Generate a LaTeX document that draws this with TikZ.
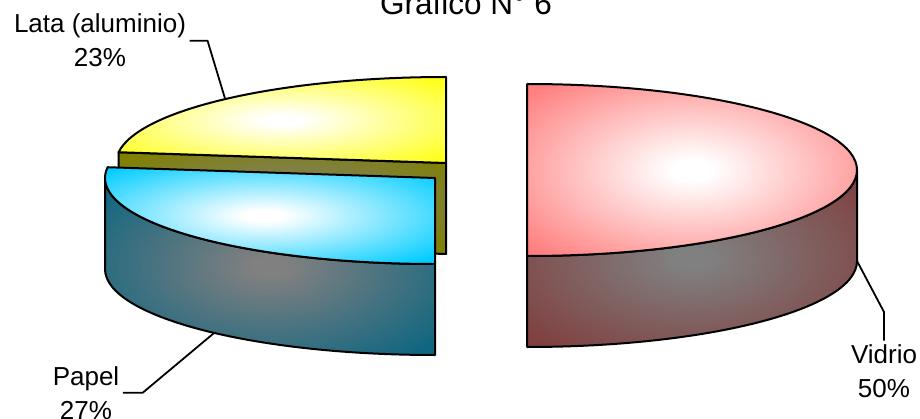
\documentclass[tikz,border=0pt]{standalone}
\usepackage{fontspec}
\setmainfont{Liberation Sans}
\usepackage{xcolor}

\definecolor{vidrioTop}{HTML}{FF8080}
\definecolor{vidrioSide}{HTML}{804040}
\definecolor{papelTop}{HTML}{00CCFF}
\definecolor{papelSide}{HTML}{0F6680}
\definecolor{lataTop}{HTML}{FFFF1A}
\definecolor{lataSide}{HTML}{808000}
\colorlet{facein}{white}
\colorlet{faceout}{white}
\pgfdeclareradialshading[facein,faceout]{boxfade}{\pgfpoint{0bp}{0bp}}{%
  color(0bp)=(facein); color(3bp)=(facein); color(33bp)=(faceout); color(100bp)=(faceout)}

\begin{document}
\begin{tikzpicture}[x=1pt,y=1pt]

    \tikzset{
      SliceStyle/.style = { draw, line width = 2pt, line join = round, shade, shading = boxfade },
      TopStyle/.style = { SliceStyle, /utils/exec = {\colorlet{facein}{white}\colorlet{faceout}{#1}} },
      SideStyle/.style = { SliceStyle, /utils/exec = {\colorlet{facein}{gray}\colorlet{faceout}{#1}} },
      PieArc/.style = { x radius = 330pt, y radius = 86pt },
      LabelStyle/.style = { font = \fontsize{26}{34}\selectfont, align = center },
      LeaderStyle/.style = { line width = 1.8pt } }

      \useasboundingbox (0,0) rectangle (920,418);

      \coordinate (lc) at (446, 255);
      \coordinate (pc) at (435, 240);
      \coordinate (vc) at (527, 248);

      % Lata
      \path (lc) ++(172.8:330pt and 86pt) coordinate (lcut);
      \path[SideStyle = lataSide] (lc) -- (lcut) -- ++(0,-91) -- ([yshift=-91pt]lc) -- cycle;
      \path[TopStyle = lataTop] (lc) -- ++(0,86)
        arc[PieArc, start angle = 90, end angle = 172.8] -- cycle;

      % Papel
      \path[SideStyle = papelSide] ([xshift=-330pt]pc)
        arc[PieArc, start angle = 180, end angle = 270] -- ++(0,-91)
        arc[PieArc, start angle = 270, end angle = 180] -- cycle;
      \path[TopStyle = papelTop] (pc) -- ++(172.8:330pt and 86pt)
        arc[PieArc, start angle = 172.8, end angle = 270] -- cycle;

      % Vidrio
      \path[SideStyle = vidrioSide] ([yshift=-86pt]vc)
        arc[PieArc, start angle = -90, end angle = 0] -- ++(0,-91)
        arc[PieArc, start angle = 0, end angle = -90] -- cycle;
      \path[TopStyle = vidrioTop] ([yshift=86pt]vc)
        arc[PieArc, start angle = 90, end angle = -90] -- cycle;

      \path (lc) ++(132:330pt and 86pt) coordinate (lataTip);
      \path (pc) ++(0,-91) ++(228:330pt and 86pt) coordinate (papelTip);
      \path (vc) ++(0,-91) ++(0:330pt and 86pt) coordinate (vidrioTip);

    \node[font = \fontsize{31.5}{36}\selectfont, anchor = base] (title) at (466, 403) {Grafico N° 6};
    \node[LabelStyle, anchor = base] (lata) at (100, 351) {Lata (aluminio)\\23\%};
    \node[LabelStyle, anchor = base] (papel) at (86, -1) {Papel\\27\%};
    \node[LabelStyle, anchor = base] (vidrio) at (884, 21) {Vidrio\\50\%};

      \draw[LeaderStyle] (lata.east) -- ++(18,0) -- (lataTip);
      \draw[LeaderStyle] (papel.east) -- ++(20,0) -- (papelTip);
      \draw[LeaderStyle] (vidrioTip) -- ++(27,-51) -- (vidrio.north);
    \end{tikzpicture}
\end{document}
